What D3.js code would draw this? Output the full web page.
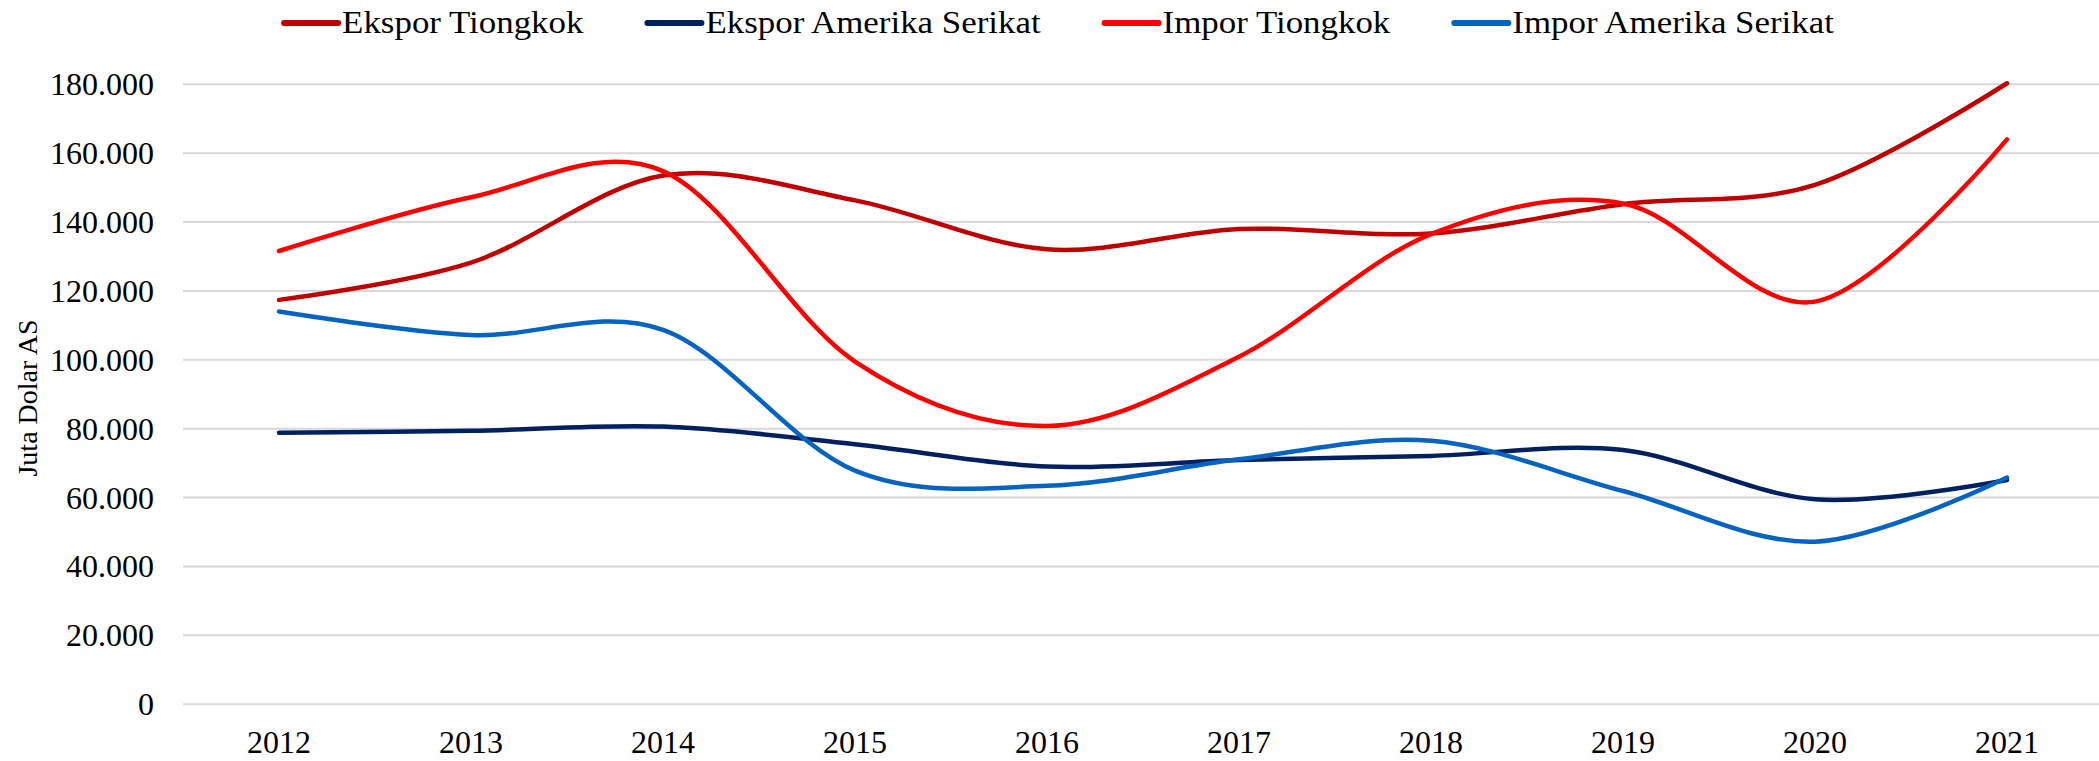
<!DOCTYPE html>
<html>
<head>
<meta charset="utf-8">
<script src="https://cdn.jsdelivr.net/npm/d3@7.9.0/dist/d3.min.js"></script>
<style>
  html, body { margin: 0; padding: 0; background: #fff; }
  svg { display: block; }
  text { font-family: "Liberation Serif", "DejaVu Serif", serif; fill: #000; }
</style>
</head>
<body>
<svg id="chart" width="2099" height="761"></svg>
<script>
const years = ['2012', '2013', '2014', '2015', '2016', '2017', '2018', '2019', '2020', '2021'];
const seriesNames = ['Ekspor Tiongkok', 'Ekspor Amerika Serikat', 'Impor Tiongkok', 'Impor Amerika Serikat'];
const seriesColors = ['#C00000', '#002060', '#FF0000', '#0563C1'];

// juta dolar AS
const eksporTiongkok = [117400, 128200, 153500, 146300, 132100, 138000, 136700, 145200, 150800, 180300];
const eksporAS = [78800, 79400, 80600, 75500, 69000, 70900, 72100, 73800, 59500, 65100];
const imporTiongkok = [131600, 147200, 154800, 99500, 80800, 100900, 136500, 145400, 116900, 164000];
const imporAS = [114000, 107200, 108700, 67800, 63400, 71100, 76500, 61900, 47200, 65800];

const yTicks = [0, 20000, 40000, 60000, 80000, 100000, 120000, 140000, 160000, 180000];

const allSeries = [eksporTiongkok, eksporAS, imporTiongkok, imporAS];

const svg = d3.select('#chart');
const plotLeft = 183, plotRight = 2103, plotTop = 84.3, plotBottom = 704.2;

const x = d3.scaleBand().domain(years).range([plotLeft, plotRight]);
const y = d3.scaleLinear().domain([0, 180000]).range([plotBottom, plotTop]);

const idLocale = d3.formatLocale({ decimal: ',', thousands: '.', grouping: [3], currency: ['', ''] });
const fmt = idLocale.format(',');

// gridlines
svg.append('g')
  .selectAll('line')
  .data(yTicks)
  .join('line')
  .attr('x1', plotLeft)
  .attr('x2', 2099)
  .attr('y1', d => y(d))
  .attr('y2', d => y(d))
  .attr('stroke', '#D9D9D9')
  .attr('stroke-width', 2);

// y axis labels
svg.append('g')
  .selectAll('text')
  .data(yTicks)
  .join('text')
  .attr('x', 154)
  .attr('y', d => y(d) + 11)
  .attr('text-anchor', 'end')
  .style('font-size', '32px')
  .text(d => fmt(d));

// x axis labels
svg.append('g')
  .selectAll('text')
  .data(years)
  .join('text')
  .attr('x', d => x(d) + x.bandwidth() / 2)
  .attr('y', 753)
  .attr('text-anchor', 'middle')
  .style('font-size', '32px')
  .text(d => d);

// y axis title
svg.append('text')
  .attr('transform', 'translate(37,398) rotate(-90)')
  .attr('text-anchor', 'middle')
  .style('font-size', '28px')
  .text('Juta Dolar AS');

// lines
const line = d3.line()
  .x((d, i) => x(years[i]) + x.bandwidth() / 2)
  .y(d => y(d))
  .curve(d3.curveCardinal.tension(0));

svg.append('g')
  .selectAll('path')
  .data(allSeries)
  .join('path')
  .attr('d', d => line(d))
  .attr('fill', 'none')
  .attr('stroke', (d, i) => seriesColors[i])
  .attr('stroke-width', 4.5)
  .attr('stroke-linecap', 'round')
  .attr('stroke-linejoin', 'round');

// legend
const legend = svg.append('g');
const swatchW = 54, gap = 4, itemGap = 64, legendY = 23, stretch = 1.09;
const items = seriesNames.map((name, i) => {
  const g = legend.append('g');
  g.append('line')
    .attr('x1', 0).attr('x2', swatchW)
    .attr('y1', 0).attr('y2', 0)
    .attr('stroke', seriesColors[i])
    .attr('stroke-width', 6)
    .attr('stroke-linecap', 'round');
  const t = g.append('text')
    .attr('transform', `translate(${swatchW + gap},10) scale(${stretch},1)`)
    .style('font-size', '32px')
    .text(name);
  return { g, w: swatchW + gap + t.node().getComputedTextLength() * stretch };
});
const totalW = d3.sum(items, d => d.w) + itemGap * (items.length - 1);
let cx = 1059 - totalW / 2;
items.forEach(it => {
  it.g.attr('transform', `translate(${cx},${legendY})`);
  cx += it.w + itemGap;
});
</script>
</body>
</html>
